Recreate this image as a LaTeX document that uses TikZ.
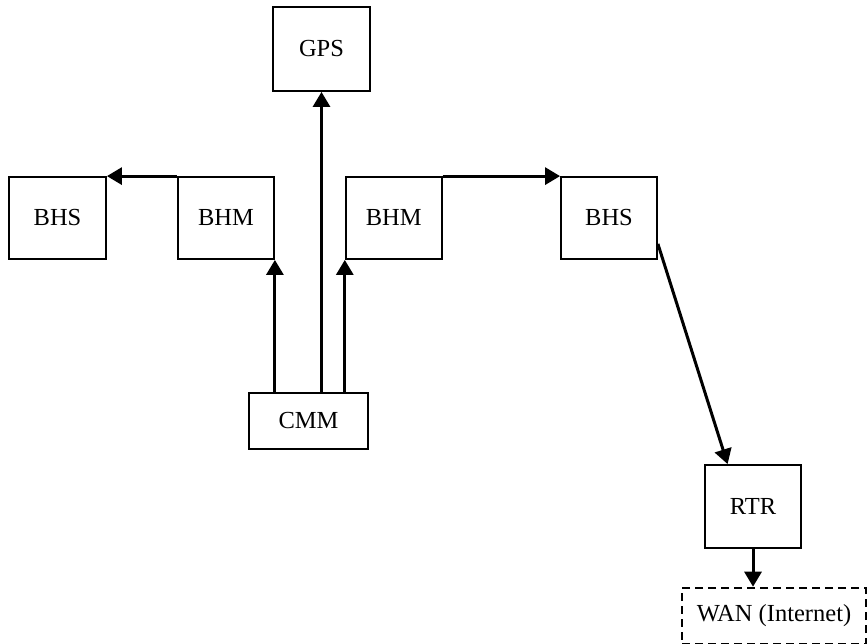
\documentclass[tikz,border=0pt]{standalone}
\usepackage{fontspec}
\setmainfont{Liberation Serif}
\usetikzlibrary{arrows.meta,calc}
\begin{document}
\begin{tikzpicture}[x=1pt,y=-1pt,
  box/.style={draw, line width=1.8pt, rectangle, inner sep=0pt, font=\fontsize{24.5}{28}\selectfont},
  wanbox/.style={draw, line width=2.6pt, dash pattern=on 8pt off 5pt, rectangle, inner sep=0pt, font=\fontsize{24.5}{28}\selectfont},
  conn/.style={line width=3pt, -{Triangle[length=15pt,width=17pt]}}]
\useasboundingbox (0,0) rectangle (867,644);
\node[box, minimum width=97pt, minimum height=84pt] (gps) at (321.5,49) {GPS};
\node[box, minimum width=97pt, minimum height=82pt] (bhsl) at (57.5,218) {BHS};
\node[box, minimum width=96pt, minimum height=82pt] (bhml) at (226,218) {BHM};
\node[box, minimum width=96pt, minimum height=82pt] (bhmr) at (393.7,218) {BHM};
\node[box, minimum width=96pt, minimum height=82pt] (bhsr) at (609,218) {BHS};
\node[box, minimum width=119pt, minimum height=56pt] (cmm) at (308.5,421) {CMM};
\node[box, minimum width=96pt, minimum height=83pt] (rtr) at (753,506.5) {RTR};
\node[wanbox, minimum width=184pt, minimum height=56pt] (wan) at (774,616) {WAN (Internet)};
\coordinate (d1) at ($(bhsr.south east)+(0,-16)$);
\coordinate (d2) at ($(rtr.north west)+(23.5,0)$);
\draw[conn] (cmm.north -| gps.south) -- (gps.south);
\draw[conn] (cmm.north -| bhml.south east) -- (bhml.south east);
\draw[conn] (cmm.north -| bhmr.south west) -- (bhmr.south west);
\draw[conn] (bhml.north west) -- (bhsl.north east);
\draw[conn] (bhmr.north east) -- (bhsr.north west);
\draw[conn] (d1) -- (d2);
\draw[conn] (rtr.south) -- (rtr.south |- wan.north);
\end{tikzpicture}
\end{document}
